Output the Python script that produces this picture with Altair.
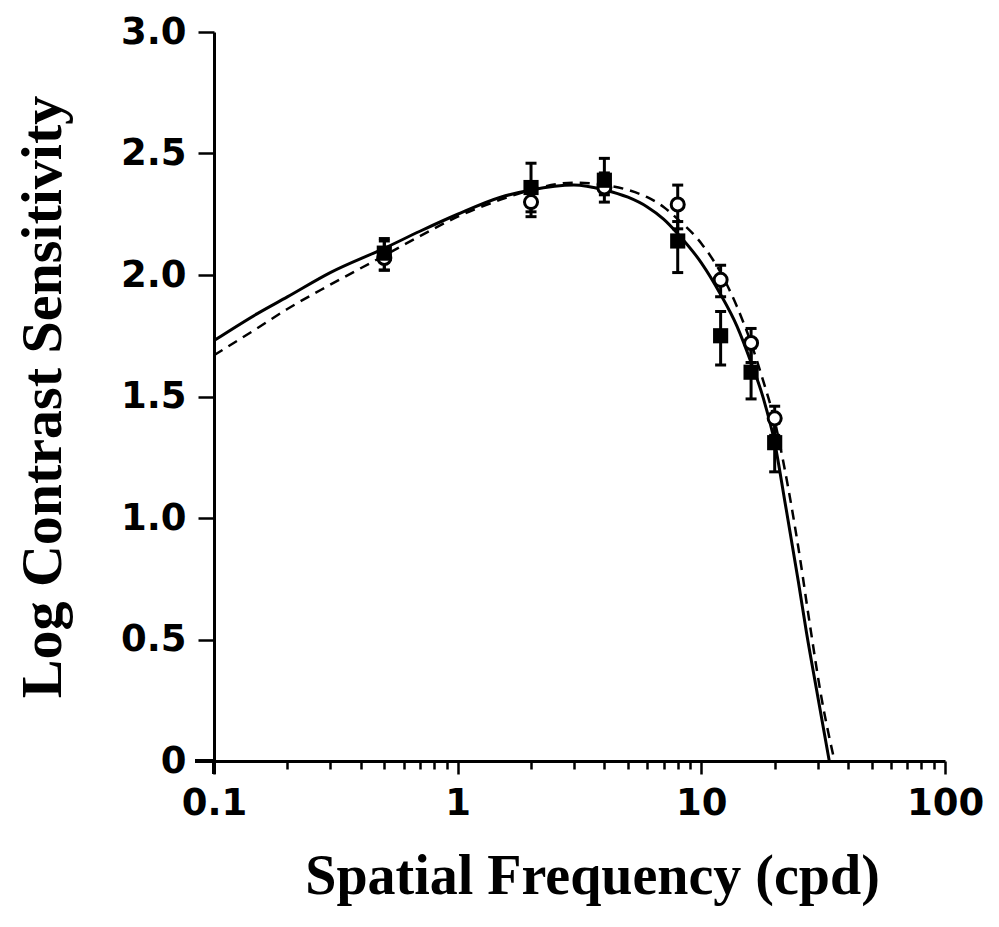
import altair as alt
import pandas as pd

# Fitted curves
solid_freq = [0.1, 0.15, 0.2, 0.3, 0.5, 0.7, 1, 1.5, 2, 3, 4, 5, 6, 7, 8, 10, 12, 14, 16, 18, 20, 22, 25, 27, 30, 33.5]
solid_val = [1.73, 1.84, 1.91, 2.01, 2.11, 2.18, 2.25, 2.32, 2.35, 2.37, 2.35, 2.32, 2.28, 2.23, 2.17, 2.05, 1.92, 1.79, 1.64, 1.49, 1.31, 1.07, 0.74, 0.53, 0.27, 0.0]

dashed_freq = [0.1, 0.15, 0.2, 0.3, 0.5, 0.7, 1, 1.5, 2, 3, 4, 5, 6, 7, 8, 10, 12, 14, 16, 18, 20, 22, 25, 28, 31, 35.2]
dashed_val = [1.67, 1.78, 1.86, 1.96, 2.08, 2.16, 2.24, 2.31, 2.35, 2.38, 2.37, 2.35, 2.32, 2.28, 2.23, 2.13, 2.01, 1.87, 1.72, 1.56, 1.40, 1.20, 0.88, 0.55, 0.27, 0.0]

# Data points with error bars
pt_freq = [0.5, 2, 4, 8, 12, 16, 20]
filled_val = [2.09, 2.36, 2.39, 2.14, 1.75, 1.60, 1.31]
filled_lo = [2.02, 2.26, 2.33, 2.01, 1.63, 1.49, 1.19]
filled_hi = [2.15, 2.46, 2.48, 2.22, 1.85, 1.70, 1.39]
open_val = [2.07, 2.30, 2.36, 2.29, 1.98, 1.72, 1.41]
open_lo = [2.02, 2.24, 2.30, 2.19, 1.91, 1.64, 1.34]
open_hi = [2.14, 2.36, 2.42, 2.37, 2.04, 1.78, 1.46]

x_major = [0.1, 1, 10, 100]
x_minor = [0.2, 0.3, 0.4, 0.5, 0.6, 0.7, 0.8, 0.9,
           2, 3, 4, 5, 6, 7, 8, 9,
           20, 30, 40, 50, 60, 70, 80, 90]
y_ticks = [0, 0.5, 1.0, 1.5, 2.0, 2.5, 3.0]

W, H = 731, 729

solid_df = pd.DataFrame({"f": solid_freq, "v": solid_val})
dashed_df = pd.DataFrame({"f": dashed_freq, "v": dashed_val})
filled_df = pd.DataFrame({"f": pt_freq, "v": filled_val, "lo": filled_lo, "hi": filled_hi})
open_df = pd.DataFrame({"f": pt_freq, "v": open_val, "lo": open_lo, "hi": open_hi})

xscale = alt.Scale(type="log", domain=[0.1, 100])
yscale = alt.Scale(domain=[0, 3])

major_test = "datum.value == 0.1 || datum.value == 1 || datum.value == 10 || datum.value == 100"

xaxis = alt.Axis(
    values=x_major + x_minor,
    labelExpr="datum.value == 0.1 ? '0.1' : datum.value == 1 ? '1' : datum.value == 10 ? '10' : datum.value == 100 ? '100' : ''",
    tickSize={"condition": {"test": major_test, "value": 13}, "value": 8},
    tickWidth=2.5,
    tickColor="black",
    domainColor="black",
    domainWidth=3,
    labelFont="DejaVu Sans",
    labelFontWeight="bold",
    labelFontSize=37,
    labelColor="black",
    labelPadding=11,
    labelFlush=False,
    labelOverlap=False,
    grid=False,
    title="Spatial Frequency (cpd)",
    titleFont="Liberation Serif",
    titleFontWeight="bold",
    titleFontSize=56,
    titleColor="black",
    titlePadding=28,
    titleX=378,
    titleAlign="center",
)

yaxis = alt.Axis(
    values=y_ticks,
    labelExpr="datum.value == 0 ? '0' : format(datum.value, '.1f')",
    tickSize=16,
    tickWidth=2.5,
    tickColor="black",
    domainColor="black",
    domainWidth=3,
    labelFont="DejaVu Sans",
    labelFontWeight="bold",
    labelFontSize=37,
    labelColor="black",
    labelPadding=12,
    grid=False,
    title="Log Contrast Sensitivity",
    titleFont="Liberation Serif",
    titleFontWeight="bold",
    titleFontSize=58,
    titleColor="black",
    titlePadding=48,
)

X = alt.X("f:Q", scale=xscale, axis=xaxis)
Y = alt.Y("v:Q", scale=yscale, axis=yaxis)

solid = alt.Chart(solid_df).mark_line(color="black", strokeWidth=3, interpolate="monotone", clip=False).encode(
    x=X, y=Y, order="f:Q")
dashed = alt.Chart(dashed_df).mark_line(color="black", strokeWidth=2.5, strokeDash=[10, 7], interpolate="monotone", clip=False).encode(
    x=alt.X("f:Q", scale=xscale), y=alt.Y("v:Q", scale=yscale), order="f:Q")

def errbars(df):
    base = alt.Chart(df)
    rule = base.mark_rule(color="black", strokeWidth=3).encode(
        x=alt.X("f:Q", scale=xscale), y=alt.Y("lo:Q", scale=yscale), y2="hi:Q")
    cap_lo = base.mark_tick(color="black", orient="horizontal", size=11, thickness=3, opacity=1).encode(
        x=alt.X("f:Q", scale=xscale), y=alt.Y("lo:Q", scale=yscale))
    cap_hi = base.mark_tick(color="black", orient="horizontal", size=11, thickness=3, opacity=1).encode(
        x=alt.X("f:Q", scale=xscale), y=alt.Y("hi:Q", scale=yscale))
    return rule + cap_lo + cap_hi

open_pts = alt.Chart(open_df).mark_point(shape="circle", filled=True, fill="white", stroke="black",
                                          strokeWidth=3, size=170, opacity=1).encode(
    x=alt.X("f:Q", scale=xscale), y=alt.Y("v:Q", scale=yscale))
filled_pts = alt.Chart(filled_df).mark_point(shape="square", filled=True, color="black", size=230, opacity=1).encode(
    x=alt.X("f:Q", scale=xscale), y=alt.Y("v:Q", scale=yscale))

# axis line extensions (crossed axes at origin)
ext_x = alt.Chart(solid_df).mark_rule(color="black", strokeWidth=3).encode(
    x=alt.value(-19), x2=alt.value(0), y=alt.value(H))
ext_y = alt.Chart(solid_df).mark_rule(color="black", strokeWidth=3).encode(
    x=alt.value(0), y=alt.value(H), y2=alt.value(H + 13))

chart = alt.layer(
    solid, dashed, errbars(open_df), errbars(filled_df), open_pts, filled_pts, ext_x, ext_y
).properties(
    width=W, height=H,
    autosize=alt.AutoSizeParams(type="none"),
    padding={"left": 206, "top": 24, "right": 44, "bottom": 160},
    background="white",
).configure_view(stroke=None)

chart.save("out.html", embed_options={"renderer": "svg", "actions": False})
